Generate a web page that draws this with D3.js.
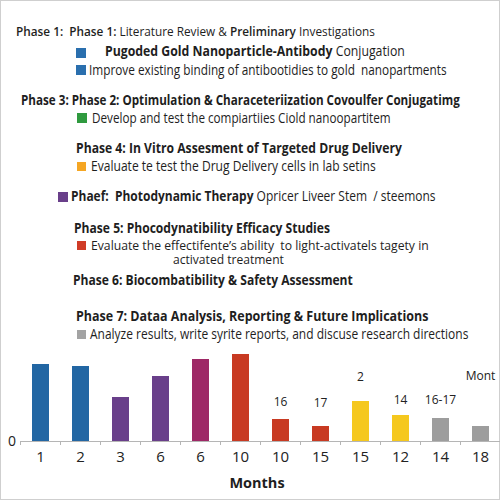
<!DOCTYPE html>
<html>
<head>
<meta charset="utf-8">
<script src="https://cdn.jsdelivr.net/npm/d3@7"></script>
<style>
  html, body { margin: 0; padding: 0; background: #fff; }
  svg { display: block; font-family: "Open Sans", "Noto Sans", sans-serif; }
  text { white-space: pre; }
</style>
</head>
<body>
<div id="chart"></div>
<script>
// bar chart data
var months = ["1", "2", "3", "6", "6", "10", "10", "15", "15", "12", "14", "18"];
var values = [7.7, 7.5, 4.4, 6.5, 8.2, 8.7, 2.2, 1.5, 4.0, 2.6, 2.3, 1.5];
var phaseOf = ["p1", "p1", "p3", "p3", "p4", "p5", "p5", "p5", "p6", "p6", "p7", "p7"];
var notes = ["", "", "", "", "", "", "16", "17", "2", "14", "16-17", "Mont"];
var noteLevel = [0, 0, 0, 0, 0, 0, 3.5, 3.4, 6.0, 3.7, 3.7, 6.1];

// legend text, each line a list of [text, weight]
var legendLines = [
    [["Phase 1:  ", 600], ["Phase 1: ", 600], ["Literature Review & ", 400], ["Preliminary", 600], [" Investigations", 400]],
    [["Pugoded Gold Nanoparticle-Antibody", 700], [" Conjugation", 400]],
    [["Improve existing binding of antibootidies to gold  nanopartments", 400]],
    [["Phase 3: Phase 2: Optimulation & Characeteriization Covoulfer Conjugatimg", 700]],
    [["Develop and test the compiartiies Ciold nanoopartitem", 400]],
    [["Phase 4: In Vitro Assesment of Targeted Drug Delivery", 700]],
    [["Evaluate te test the Drug Delivery cells in lab setins", 400]],
    [["Phaef:  Photodynamic Therapy", 700], [" Opricer Liveer Stem  / steemons", 400]],
    [["Phase 5: Phocodynatibility Efficacy Studies", 700]],
    [["Evaluate the effectifente\u2019s ability  to light-activatels tagety in", 400]],
    [["activated treatment", 400]],
    [["Phase 6: Biocombatibility & Safety Assessment", 700]],
    [["Phase 7: Dataa Analysis, Reporting & Future Implications", 700]],
    [["Analyze results, write syrite reports, and discuse research directions", 400]]
];
var legendSwatch = [null, "p1", "p1", null, "p2", null, "p4", "p3", null, "p5", null, null, null, "p7"];

var colors = {
    p1: "#2266a3",
    p2: "#2f9a3f",
    p3: "#693f8a",
    p4: "#9e2866",
    p5: "#c83a22",
    p6: "#f5c81e",
    p7: "#9d9d9d"
};
var swatchColors = { p1: "#2a6fae", p2: "#2f9a3f", p3: "#693f8a", p4: "#f5a623", p5: "#d03c27", p7: "#a3a3a3" };

var width = 500;
var height = 500;

// layout of legend lines: x, center y, font size, target width
var lineLayout = [
    [16, 31, 13, 359], [105, 51, 15, 300], [89, 70, 14, 358], [21, 100, 14, 439],
    [92, 118, 14, 299], [76, 148, 14, 326], [91, 166, 14, 285], [71, 196, 14, 365],
    [74, 228, 14, 256], [91, 245, 13.5, 338], [173, 259.5, 13.5, 111], [73, 280, 14, 280],
    [76, 316, 14, 353], [90, 334, 14, 379]
];
var swatchLayout = [null, [76, 48, 10], [76, 65, 10], null, [77, 113, 10], null, [77, 162, 9],
    [58, 192, 10], null, [77, 241, 9], null, null, null, [77, 330, 9]];

var svg = d3.select("#chart").append("svg")
    .attr("width", width)
    .attr("height", height);

svg.append("rect")
    .attr("x", 0.5).attr("y", 0.5)
    .attr("width", width - 1).attr("height", height - 1)
    .attr("fill", "#fff")
    .attr("stroke", "#cfcfcf");

// legend block
legendLines.forEach(function(segs, i) {
    var lay = lineLayout[i];
    var g = svg.append("g");
    var t = g.append("text")
        .attr("dy", "0.35em")
        .attr("font-size", lay[2])
        .attr("fill", "#1e1e1e");
    segs.forEach(function(s) {
        t.append("tspan").attr("font-weight", s[1]).text(s[0]);
    });
    var w = t.node().getComputedTextLength();
    var sx = lay[3] / w;
    g.attr("transform", "translate(" + lay[0] + "," + lay[1] + ") scale(" + sx + ",1)");

    var sw = swatchLayout[i];
    if (sw) {
        svg.append("rect")
            .attr("x", sw[0]).attr("y", sw[1])
            .attr("width", sw[2]).attr("height", sw[2])
            .attr("fill", swatchColors[legendSwatch[i]]);
    }
});

// bar chart
var baseline = 441;
var x = d3.scaleBand()
    .domain(d3.range(months.length))
    .range([20.5, 500.5])
    .paddingInner(0.575)
    .paddingOuter(0.2875);

var y = d3.scaleLinear()
    .domain([0, 10])
    .range([baseline, baseline - 100]);

svg.selectAll("rect.bar")
    .data(values)
    .enter()
    .append("rect")
    .attr("class", "bar")
    .attr("x", function(d, i) { return x(i); })
    .attr("y", function(d) { return y(d); })
    .attr("width", x.bandwidth())
    .attr("height", function(d) { return y(0) - y(d); })
    .attr("fill", function(d, i) { return colors[phaseOf[i]]; });

// axis line with ticks at band boundaries
var step = x.step();
svg.append("line")
    .attr("x1", x.range()[0]).attr("x2", width)
    .attr("y1", baseline + 0.5).attr("y2", baseline + 0.5)
    .attr("stroke", "#b5b5b5");

svg.selectAll("line.tick")
    .data(d3.range(months.length))
    .enter()
    .append("line")
    .attr("class", "tick")
    .attr("x1", function(i) { return x(i) + x.bandwidth() / 2 - step / 2; })
    .attr("x2", function(i) { return x(i) + x.bandwidth() / 2 - step / 2; })
    .attr("y1", baseline).attr("y2", baseline + 4)
    .attr("stroke", "#b5b5b5");

var xAxis = d3.axisBottom(x)
    .tickSize(0)
    .tickPadding(0)
    .tickFormat(function(i) { return months[i]; });

var axisG = svg.append("g")
    .attr("transform", "translate(0," + baseline + ")")
    .call(xAxis);
axisG.select(".domain").remove();
axisG.selectAll("text")
    .attr("y", 16)
    .attr("dy", "0.35em")
    .attr("font-size", 15)
    .attr("font-family", "\"Open Sans\", sans-serif")
    .attr("fill", "#222");

svg.append("text")
    .attr("x", 12).attr("y", y(0))
    .attr("dy", "0.35em")
    .attr("text-anchor", "middle")
    .attr("font-size", 14)
    .attr("fill", "#222")
    .text("0");

svg.selectAll("text.note")
    .data(notes)
    .enter()
    .append("text")
    .attr("class", "note")
    .attr("x", function(d, i) { return x(i) + x.bandwidth() / 2; })
    .attr("y", function(d, i) { return y(noteLevel[i]); })
    .attr("text-anchor", "middle")
    .attr("font-size", 12)
    .attr("fill", "#222")
    .text(function(d) { return d; });

svg.append("text")
    .attr("x", 257).attr("y", 483)
    .attr("dy", "0.35em")
    .attr("text-anchor", "middle")
    .attr("font-size", 14.5)
    .attr("font-weight", 700)
    .attr("fill", "#1e1e1e")
    .text("Months");
</script>
</body>
</html>
